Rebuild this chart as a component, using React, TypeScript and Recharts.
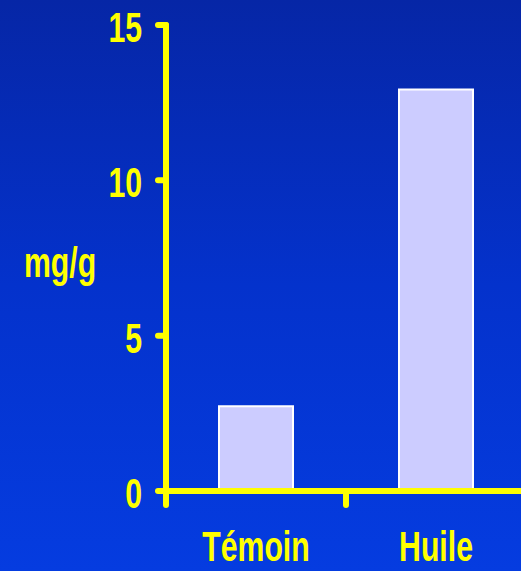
import { BarChart, Bar, XAxis, YAxis, ReferenceLine } from 'recharts';

const categories = ['Témoin', 'Huile'];
const values = [2.73, 12.92];
const yTicks = [0, 5, 10, 15];
const yLabel = 'mg/g';

const data = categories.map((name, i) => ({ name, value: values[i], pos: i }));

const YELLOW = '#ffff00';
const FONT = '"Liberation Sans", Arial, sans-serif';
const SIZE = 42;
// condensed look: squeeze the bold sans horizontally
const SQUEEZE = 0.72;

const NarrowText = ({ x, y, anchor, children }: any) => (
  <text
    transform={`translate(${x},${y}) scale(${SQUEEZE},1)`}
    x={0}
    y={0}
    textAnchor={anchor}
    fill={YELLOW}
    fontFamily={FONT}
    fontWeight="bold"
    fontSize={SIZE}
  >
    {children}
  </text>
);

const YTick = ({ x, y, payload }: any) => (
  <NarrowText x={x} y={y + 17} anchor="end">
    {payload.value}
  </NarrowText>
);

const XTick = ({ x, y, payload }: any) => (
  <NarrowText x={x} y={y + 62} anchor="middle">
    {payload.value}
  </NarrowText>
);

const YLabel = ({ viewBox }: any) => (
  <NarrowText x={viewBox.x + 60} y={viewBox.y + viewBox.height / 2 + 19} anchor="middle">
    {yLabel}
  </NarrowText>
);

export default function App() {
  return (
    <div
      style={{
        position: 'fixed',
        top: 0,
        left: 0,
        width: 521,
        height: 571,
        overflow: 'hidden',
        background: 'linear-gradient(to bottom, #0626a6 0%, #0432cc 50%, #053ce0 100%)',
      }}
    >
      <BarChart
        width={546}
        height={571}
        data={data}
        margin={{ top: 25, right: 20, left: 0, bottom: 0 }}
        barSize={74}
      >
        <XAxis
          dataKey="name"
          axisLine={{ stroke: YELLOW, strokeWidth: 6 }}
          tickLine={false}
          tick={<XTick />}
          height={80}
        />
        <XAxis xAxisId="b" dataKey="pos" type="number" domain={[0, 2]} hide />
        <YAxis
          domain={[0, 15]}
          ticks={yTicks}
          width={166}
          axisLine={{ stroke: YELLOW, strokeWidth: 6, strokeLinecap: 'round' }}
          tickLine={{ stroke: YELLOW, strokeWidth: 6, strokeLinecap: 'round' }}
          tickSize={8}
          tickMargin={16}
          tick={<YTick />}
          label={<YLabel />}
        />
        <Bar dataKey="value" fill="#ccccff" stroke="#ffffff" strokeWidth={2} isAnimationActive={false} />
        <ReferenceLine
          xAxisId="b"
          segment={[{ x: 0, y: 0 }, { x: 0, y: -0.45 }]}
          ifOverflow="visible"
          stroke={YELLOW}
          strokeWidth={6}
          strokeLinecap="round"
        />
        <ReferenceLine
          xAxisId="b"
          segment={[{ x: 1, y: 0 }, { x: 1, y: -0.45 }]}
          ifOverflow="visible"
          stroke={YELLOW}
          strokeWidth={6}
          strokeLinecap="round"
        />
      </BarChart>
    </div>
  );
}
